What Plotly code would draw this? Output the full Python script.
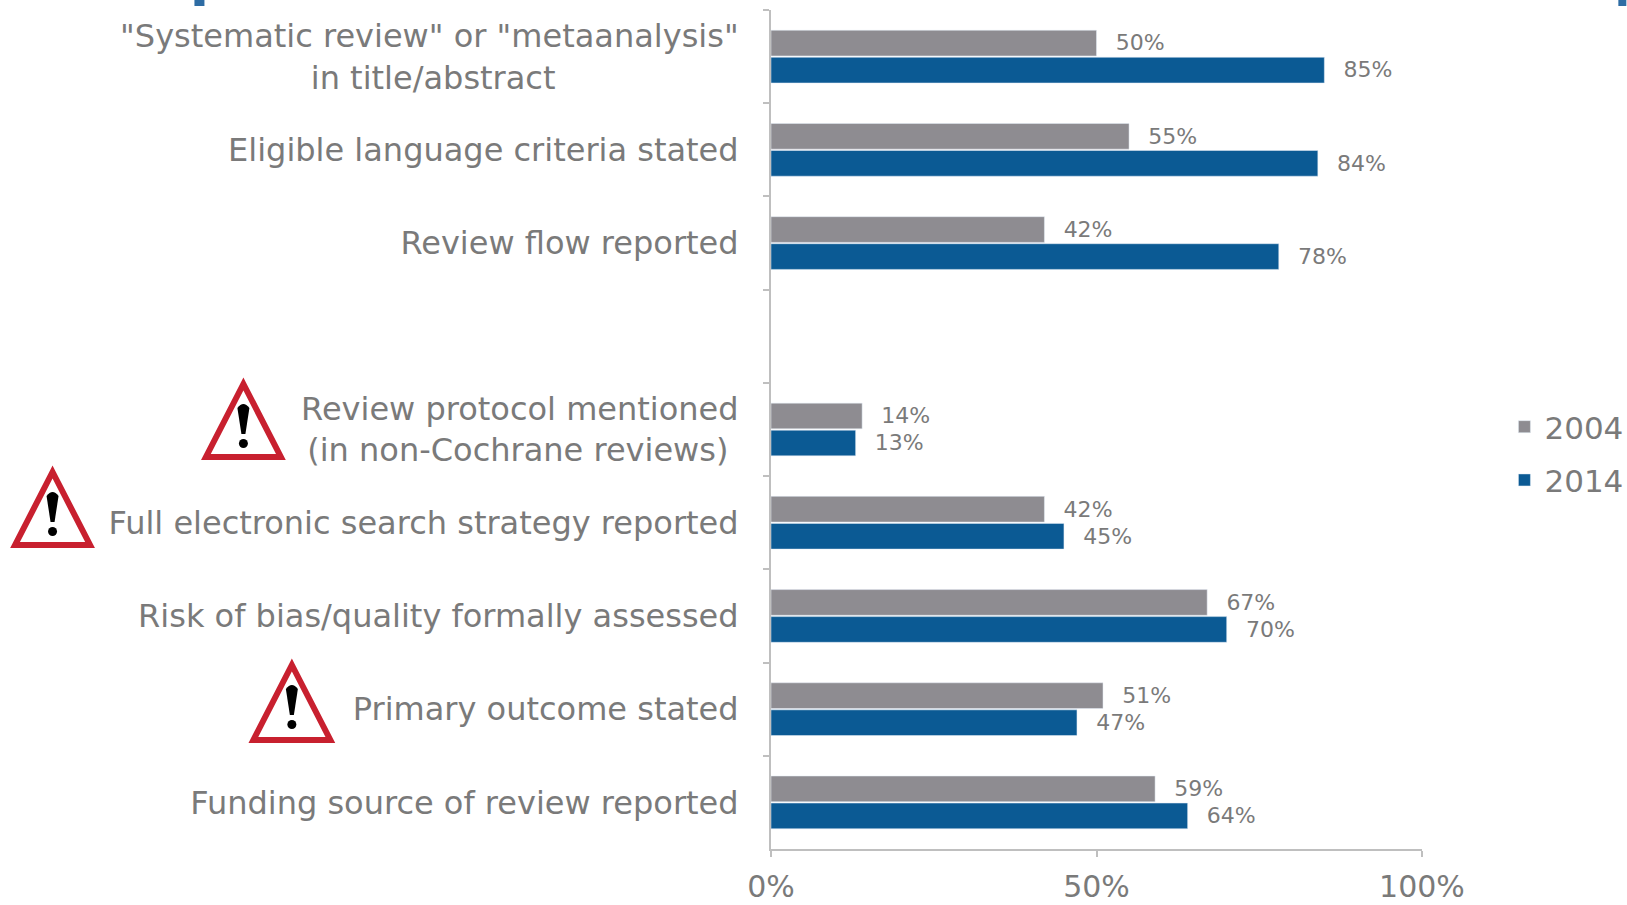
import plotly.graph_objects as go

NB = "\u00a0"
categories = [
    '"Systematic review" or "metaanalysis"<br>in title/abstract' + NB * 18,
    "Eligible language criteria stated",
    "Review flow reported",
    " ",
    "Review protocol mentioned<br>(in non-Cochrane reviews)" + NB,
    "Full electronic search strategy reported",
    "Risk of bias/quality formally assessed",
    "Primary outcome stated",
    "Funding source of review reported",
]
values_2004 = [50, 55, 42, None, 14, 42, 67, 51, 59]
values_2014 = [85, 84, 78, None, 13, 45, 70, 47, 64]
x_ticks = [0, 50, 100]
x_tick_labels = ["0%", "50%", "100%"]

W, H = 1627, 905
L, R, T, B = 771, 1422.5, 10, 849
GRAY, BLUE = "#8E8C91", "#0B5A94"
TEXT = "#7A7A7A"
FONT = "DejaVu Sans"


def px(x):
    return (x - L) / (R - L)


def py(y):
    return (B - y) / (B - T)


def bar(name, vals, color):
    return go.Bar(
        name=name, y=categories, x=vals, orientation="h", marker_color=color,
        legendgroup=name,
        text=[None if v is None else f"{NB*2}\u200a{v}%" for v in vals],
        textposition="outside", cliponaxis=False,
        textfont=dict(color=TEXT, size=24, family=FONT),
    )


fig = go.Figure([bar("2004", values_2004, GRAY), bar("2014", values_2014, BLUE)])

shapes = []
for cx, top, base in [(243, 379, 460), (52, 467, 548), (291.5, 660, 743)]:
    hw = (base - top) / 2
    shapes.append(dict(
        type="path", xref="paper", yref="paper",
        path=f"M{px(cx)},{py(top + 5)} L{px(cx + hw - 3)},{py(base - 3)} L{px(cx - hw + 3)},{py(base - 3)} Z",
        line=dict(color="#C8202F", width=6), fillcolor="white", layer="above",
    ))
    t = top + 26
    shapes.append(dict(
        type="path", xref="paper", yref="paper",
        path=f"M{px(cx - 6)},{py(t + 3)} Q{px(cx)},{py(t - 5)} {px(cx + 6)},{py(t + 3)} "
             f"L{px(cx + 2)},{py(t + 29)} L{px(cx - 2)},{py(t + 29)} Z",
        line=dict(color="black", width=0), fillcolor="black", layer="above",
    ))
    shapes.append(dict(
        type="circle", xref="paper", yref="paper",
        x0=px(cx - 4.5), x1=px(cx + 4.5), y0=py(t + 43), y1=py(t + 34),
        line=dict(color="black", width=0), fillcolor="black", layer="above",
    ))
for x0, x1 in [(194, 204), (1619, 1627)]:
    shapes.append(dict(
        type="rect", xref="paper", yref="paper",
        x0=px(x0), x1=px(x1), y0=py(6), y1=py(-2),
        line=dict(width=0), fillcolor="#2E6CA4", layer="above",
    ))

fig.update_layout(
    width=W, height=H, autosize=False,
    margin=dict(l=L, r=W - R, t=T, b=H - B, pad=0, autoexpand=False),
    paper_bgcolor="white", plot_bgcolor="white",
    barmode="group", bargap=0.42, bargroupgap=0.05,
    font=dict(family=FONT, color=TEXT),
    shapes=shapes,
    legend=dict(
        x=px(1505), y=py(400), xanchor="left", yanchor="top",
        font=dict(size=31, color=TEXT), itemwidth=30, tracegroupgap=10,
        bgcolor="rgba(0,0,0,0)",
    ),
    yaxis=dict(
        categoryorder="array", categoryarray=categories, autorange="reversed",
        automargin=False,
        tickson="boundaries", ticks="outside", ticklen=6, tickwidth=2, tickcolor="#BFBFBF",
        showline=True, linecolor="#BFBFBF", linewidth=2, showgrid=False, zeroline=False,
        tickfont=dict(size=32, color=TEXT), ticklabelstandoff=24,
    ),
    xaxis=dict(
        range=[0, 100], tickvals=x_ticks, ticktext=x_tick_labels,
        automargin=False, ticklabelstandoff=4,
        ticks="outside", ticklen=6, tickwidth=2, tickcolor="#BFBFBF",
        showline=True, linecolor="#BFBFBF", linewidth=2, showgrid=False, zeroline=False,
        tickfont=dict(size=30, color=TEXT),
    ),
)

fig.write_html("out.html", config=dict(displayModeBar=False),
               post_script="document.body.style.margin='0';")
